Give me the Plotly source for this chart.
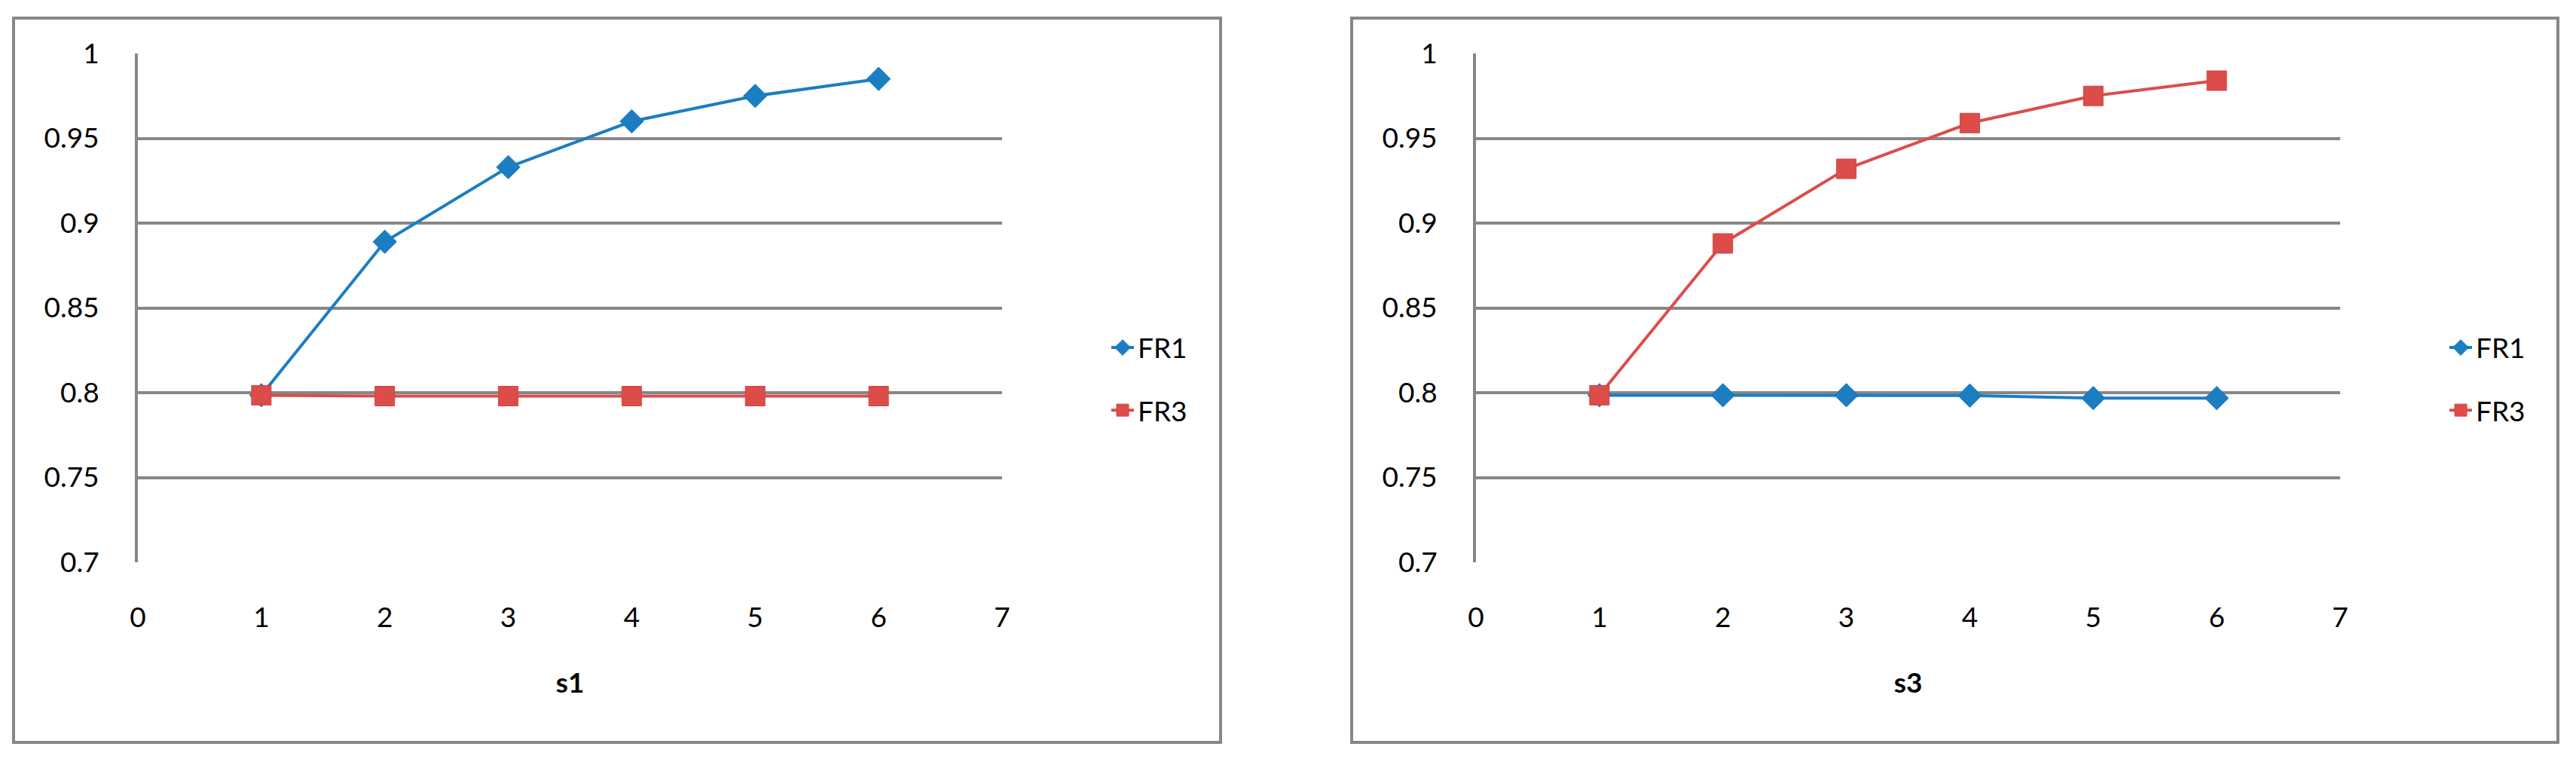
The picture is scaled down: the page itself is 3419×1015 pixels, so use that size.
import plotly.graph_objects as go

# data
x_vals = [1, 2, 3, 4, 5, 6]

s1_fr1 = [0.7985, 0.889, 0.933, 0.960, 0.975, 0.985]
s1_fr3 = [0.7985, 0.798, 0.798, 0.798, 0.798, 0.798]

s3_fr1 = [0.7985, 0.7985, 0.7985, 0.7983, 0.7968, 0.7968]
s3_fr3 = [0.7985, 0.888, 0.932, 0.959, 0.975, 0.984]

y_ticks = [0.7, 0.75, 0.8, 0.85, 0.9, 0.95, 1.0]
y_ticklabels = ['0.7', '0.75', '0.8', '0.85', '0.9', '0.95', '1']
x_ticks = [0, 1, 2, 3, 4, 5, 6, 7]

BLUE = '#1b7ec2'
RED = '#dc4d4a'
GRID = '#878787'
FONT = 'Lato, sans-serif'

W, H = 3419, 1015
PAGE_OFF = 8  # the page body adds an 8px margin


def px_x(v):
    return (v - PAGE_OFF) / W


def px_y(v):
    return (H - (v - PAGE_OFF)) / H


fig = go.Figure()

panels = [
    ('x', 'y', 'legend', 's1', s1_fr1, s1_fr3),
    ('x2', 'y2', 'legend2', 's3', s3_fr1, s3_fr3),
]

for xa, ya, lg, name, fr1, fr3 in panels:
    fig.add_trace(go.Scatter(
        x=x_vals, y=fr1, name='FR1', mode='lines+markers',
        xaxis=xa, yaxis=ya, legend=lg, legendgroup='a' + name,
        line=dict(color=BLUE, width=4),
        marker=dict(symbol='diamond', size=24, color=BLUE,
                    line=dict(color='#1776b8', width=1)),
    ))
    fig.add_trace(go.Scatter(
        x=x_vals, y=fr3, name='FR3', mode='lines+markers',
        xaxis=xa, yaxis=ya, legend=lg, legendgroup='b' + name,
        line=dict(color=RED, width=4),
        marker=dict(symbol='square', size=26, color=RED,
                    line=dict(color='#d24440', width=1)),
    ))

# plot area positions (pixels in the 3419x1015 page)
left_dom = [px_x(183), px_x(1330)]
right_dom = [px_x(1959), px_x(3106)]
y_dom = [px_y(746), px_y(71)]

xaxis_common = dict(
    range=[0, 7], tickvals=x_ticks, showgrid=False, zeroline=False,
    showline=False, ticks='', ticklabelstandoff=48, automargin=False,
    tickfont=dict(family=FONT, size=37, color='black'),
    title_font=dict(family=FONT, size=37, color='black'),
    title_standoff=54, fixedrange=True,
)
yaxis_common = dict(
    range=[0.7, 1.0], tickvals=y_ticks, ticktext=y_ticklabels,
    showgrid=True, gridcolor=GRID, gridwidth=4, zeroline=False,
    showline=True, linecolor=GRID, linewidth=4, ticks='',
    ticklabelstandoff=40, automargin=False,
    tickfont=dict(family=FONT, size=37, color='black'), fixedrange=True,
)

fig.update_layout(
    width=W, height=H,
    margin=dict(l=0, r=0, t=0, b=0),
    paper_bgcolor='white', plot_bgcolor='white',
    font=dict(family=FONT, size=37, color='black'),
    xaxis=dict(domain=left_dom, anchor='y', title_text='<b>s1</b>', **xaxis_common),
    yaxis=dict(domain=y_dom, anchor='x', **yaxis_common),
    xaxis2=dict(domain=right_dom, anchor='y2', title_text='<b>s3</b>', **xaxis_common),
    yaxis2=dict(domain=y_dom, anchor='x2', **yaxis_common),
    legend=dict(x=px_x(1470), y=px_y(503), xanchor='left', yanchor='middle',
                bgcolor='rgba(0,0,0,0)', tracegroupgap=32,
                font=dict(family=FONT, size=37, color='black')),
    legend2=dict(x=px_x(3246), y=px_y(503), xanchor='left', yanchor='middle',
                 bgcolor='rgba(0,0,0,0)', tracegroupgap=32,
                 font=dict(family=FONT, size=37, color='black')),
    showlegend=True,
)

# chart area borders
for x0, x1 in [(18, 1620), (1794, 3395)]:
    fig.add_shape(type='rect', xref='paper', yref='paper',
                  x0=px_x(x0), x1=px_x(x1), y0=px_y(985), y1=px_y(24),
                  line=dict(color=GRID, width=4), fillcolor='rgba(0,0,0,0)',
                  layer='below')

fig.write_html('out.html')
